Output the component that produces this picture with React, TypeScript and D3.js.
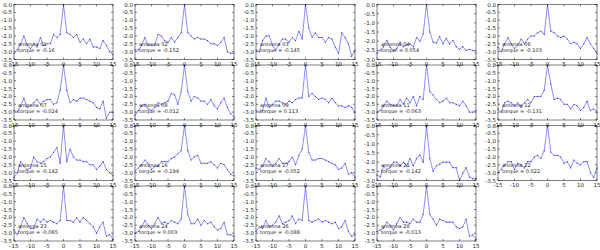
import React from 'react';
import * as d3 from 'd3';

// lag axis, shared by every panel
const LAGS = [-15, -14, -13, -12, -11, -10, -9, -8, -7, -6, -5, -4, -3, -2, -1, 0, 1, 2, 3, 4, 5, 6, 7, 8, 9, 10, 11, 12, 13, 14, 15];
const X_TICKS = [-15, -10, -5, 0, 5, 10, 15];

const ANTENNAS = ['01', '02', '03', '04', '06', '07', '08', '09', '11', '12', '15', '16', '17', '21', '22', '23', '24', '26', '28'];
const TORQUES = ['-0.16', '-0.152', '-0.145', '0.054', '-0.103', '-0.024', '-0.012', '0.113', '-0.063', '-0.131', '-0.142', '-0.194', '-0.052', '-0.142', '0.022', '-0.065', '0.003', '-0.088', '-0.013'];
const Y_MINS = [-3.5, -3.5, -3.5, -3.0, -3.5, -3.5, -3.5, -3.5, -3.5, -3.5, -3.5, -3.5, -3.5, -3.0, -3.5, -3.5, -3.5, -3.5, -3.5];

const ant01 = [-3.1, -2.9, -2.5, -2.0, -2.6, -2.8, -2.5, -2.7, -2.1, -2.6, -2.5, -2.5, -1.9, -2.1, -1.9, 0.0, -1.8, -1.9, -2.1, -1.9, -2.4, -2.2, -2.5, -2.2, -2.7, -2.7, -2.8, -2.3, -2.6, -3.0, -3.2];
const ant02 = [-2.9, -2.9, -2.6, -2.1, -2.6, -2.6, -2.6, -1.9, -2.0, -2.3, -2.4, -2.1, -2.4, -2.1, -1.8, 0.0, -1.8, -2.0, -2.2, -2.1, -2.2, -2.2, -2.3, -2.5, -2.5, -2.6, -2.4, -2.1, -3.0, -3.1, -3.1];
const ant03 = [-2.9, -3.0, -2.3, -2.0, -2.0, -2.6, -2.9, -2.5, -2.2, -2.2, -2.4, -2.1, -2.3, -1.7, -2.2, 0.0, -1.5, -2.1, -1.8, -2.1, -2.1, -2.4, -2.1, -2.2, -2.7, -3.1, -1.8, -2.1, -2.5, -3.3, -2.9];
const ant04 = [-2.65, -2.5, -2.3, -1.95, -2.35, -2.5, -2.4, -2.05, -2.3, -2.2, -2.15, -2.3, -1.8, -2.0, -1.6, 0.0, -1.5, -2.05, -2.1, -1.75, -2.15, -1.85, -2.15, -1.95, -2.3, -2.45, -2.3, -2.5, -2.45, -2.5, -2.65];
const ant06 = [-2.7, -3.0, -2.5, -2.1, -2.5, -2.8, -2.6, -2.2, -2.5, -2.2, -2.0, -2.0, -1.8, -1.7, -1.9, -0.05, -1.7, -1.8, -2.0, -2.1, -2.0, -2.2, -2.5, -2.4, -2.5, -2.8, -2.5, -2.1, -2.5, -2.8, -3.1];
const ant07 = [-2.9, -3.0, -2.6, -2.1, -2.7, -2.6, -2.4, -2.2, -2.5, -2.3, -2.2, -2.2, -2.5, -2.4, -1.6, 0.0, -1.6, -2.4, -2.2, -2.3, -2.1, -2.1, -2.2, -2.3, -2.4, -2.7, -2.8, -2.3, -3.4, -3.0, -3.0];
const ant08 = [-3.2, -2.9, -2.6, -2.5, -2.8, -2.9, -2.7, -2.4, -2.5, -2.4, -2.3, -1.8, -1.9, -2.5, -1.7, 0.0, -1.7, -2.3, -2.0, -2.1, -2.3, -2.3, -2.5, -2.2, -2.6, -2.8, -2.4, -2.1, -2.7, -3.1, -3.3];
const ant09 = [-2.9, -3.0, -2.9, -2.1, -2.7, -2.5, -2.3, -2.3, -2.4, -2.5, -2.3, -2.4, -2.2, -2.1, -2.1, 0.0, -2.0, -1.8, -2.0, -2.2, -2.1, -2.2, -2.4, -2.1, -2.4, -2.6, -2.6, -2.7, -2.6, -2.7, -3.0];
const ant11 = [-3.0, -2.9, -2.6, -2.3, -2.5, -2.6, -2.6, -2.2, -2.5, -2.1, -2.4, -2.0, -2.6, -2.0, -2.2, 0.0, -1.7, -1.9, -2.2, -2.4, -2.3, -2.1, -2.4, -2.4, -2.5, -2.6, -2.3, -2.6, -3.0, -3.0, -2.9];
const ant12 = [-2.8, -3.0, -2.4, -2.3, -2.4, -2.6, -2.4, -2.7, -2.4, -2.2, -2.4, -2.0, -2.0, -2.0, -1.6, 0.0, -1.2, -2.2, -2.1, -2.2, -2.5, -2.5, -2.8, -2.5, -2.6, -2.9, -2.7, -2.3, -2.9, -2.8, -3.0];
const ant15 = [-3.3, -3.0, -2.3, -2.6, -2.8, -2.7, -2.0, -2.3, -2.4, -2.3, -2.1, -2.0, -1.7, -1.4, -2.4, 0.0, -2.3, -1.5, -2.0, -2.2, -2.2, -2.3, -2.3, -2.5, -2.5, -2.8, -2.6, -2.3, -2.8, -3.0, -3.2];
const ant16 = [-2.9, -2.7, -2.5, -2.2, -2.4, -2.8, -2.6, -2.6, -2.3, -2.3, -2.3, -2.1, -2.0, -1.8, -1.6, 0.0, -1.6, -2.2, -2.0, -1.9, -2.4, -2.4, -2.4, -2.3, -2.5, -2.7, -2.4, -2.5, -2.8, -3.1, -3.2];
const ant17 = [-2.7, -2.8, -2.6, -2.1, -2.3, -2.6, -2.4, -2.1, -2.4, -2.4, -2.3, -2.0, -2.5, -1.9, -1.5, 0.0, -1.7, -2.2, -2.2, -2.1, -2.1, -2.2, -2.3, -2.4, -2.5, -2.8, -2.7, -2.4, -3.1, -3.0, -3.3];
const ant21 = [-2.7, -2.8, -2.2, -2.4, -2.3, -2.0, -2.0, -2.2, -2.0, -2.2, -1.8, -2.2, -1.8, -1.6, -2.0, 0.0, -1.8, -2.5, -2.2, -2.1, -2.0, -2.0, -2.0, -2.3, -2.3, -3.0, -2.6, -2.3, -2.8, -2.9, -2.9];
const ant22 = [-3.0, -2.8, -2.5, -2.3, -2.3, -2.8, -2.4, -2.5, -2.7, -2.3, -2.3, -2.0, -1.9, -2.1, -1.6, 0.0, -1.7, -1.9, -1.9, -2.0, -2.4, -2.3, -2.7, -2.2, -2.4, -2.5, -2.3, -2.3, -3.0, -3.3, -2.7];
const ant23 = [-2.8, -3.1, -2.6, -2.0, -2.4, -2.7, -2.7, -2.1, -2.3, -2.1, -2.3, -2.2, -2.3, -2.4, -2.2, 0.0, -2.2, -2.2, -2.3, -2.0, -2.3, -2.0, -2.2, -2.4, -2.6, -3.0, -2.6, -2.3, -3.2, -3.1, -3.4];
const ant24 = [-3.0, -2.9, -2.6, -2.2, -2.5, -2.7, -2.4, -2.0, -2.4, -2.3, -2.4, -2.2, -2.3, -2.4, -2.1, 0.0, -1.8, -2.4, -2.4, -2.1, -2.5, -2.2, -2.4, -2.3, -2.6, -2.8, -2.7, -2.3, -3.1, -3.1, -3.2];
const ant26 = [-2.9, -2.6, -2.7, -2.2, -2.6, -2.5, -2.3, -1.9, -2.4, -2.3, -2.2, -1.9, -2.4, -2.1, -2.2, 0.0, -2.2, -2.3, -2.2, -2.1, -2.3, -2.2, -2.3, -2.4, -2.3, -2.7, -2.6, -2.2, -2.9, -3.2, -3.1];
const ant28 = [-2.9, -2.8, -2.7, -2.3, -2.5, -2.8, -2.4, -2.0, -2.3, -2.3, -2.4, -2.1, -2.3, -2.3, -1.8, 0.0, -1.8, -2.1, -2.5, -2.1, -2.2, -2.3, -2.3, -2.3, -2.6, -2.7, -2.6, -2.1, -3.2, -3.1, -3.4];

const SERIES = [ant01, ant02, ant03, ant04, ant06, ant07, ant08, ant09, ant11, ant12, ant15, ant16, ant17, ant21, ant22, ant23, ant24, ant26, ant28];

// grid geometry
const COL_X = [14, 135, 256, 377, 498];
const ROW_Y = [4.5, 65, 125.5, 186];
const PW = 99;
const PH = 55;
const FONT = 'DejaVu Sans';
const LINE_BLUE = '#1a1aff';

const Panel = ({ idx }: { idx: number }) => {
  const col = idx % 5;
  const row = Math.floor(idx / 5);
  const yMin = Y_MINS[idx];
  const x = d3.scaleLinear().domain([-15, 15]).range([0, PW]);
  const y = d3.scaleLinear().domain([yMin, 0]).range([PH, 0]);
  const yTicks = d3.range(yMin, 0.001, 0.5);
  const line = d3.line<number>().x((_, i) => x(LAGS[i])).y((d) => y(d));
  const data = SERIES[idx];

  return (
    <g transform={`translate(${COL_X[col]},${ROW_Y[row]})`}>
      <path d={line(data) || ''} fill="none" stroke={LINE_BLUE} strokeWidth={0.5} />
      {data.map((d, i) => (
        <circle key={i} cx={x(LAGS[i])} cy={y(d)} r={0.55} fill={LINE_BLUE} />
      ))}
      <rect x={0} y={0} width={PW} height={PH} fill="none" stroke="#000" strokeWidth={0.5} />
      {X_TICKS.map((t) => (
        <g key={'x' + t}>
          <line x1={x(t)} x2={x(t)} y1={PH} y2={PH - 2} stroke="#000" strokeWidth={0.5} />
          <line x1={x(t)} x2={x(t)} y1={0} y2={2} stroke="#000" strokeWidth={0.5} />
          <text x={x(t)} y={PH + 6.5} fontSize={5.5} textAnchor="middle" fontFamily={FONT} fill="#222">{t}</text>
        </g>
      ))}
      {yTicks.map((t) => (
        <g key={'y' + t}>
          <line x1={0} x2={2} y1={y(t)} y2={y(t)} stroke="#000" strokeWidth={0.5} />
          <line x1={PW} x2={PW - 2} y1={y(t)} y2={y(t)} stroke="#000" strokeWidth={0.5} />
          <text x={-2} y={y(t) + 2} fontSize={5.5} textAnchor="end" fontFamily={FONT} fill="#222">{t.toFixed(1)}</text>
        </g>
      ))}
      <text x={4} y={PH - 13.5} fontSize={5} fontFamily={FONT} fill="#222">{'antenna ' + ANTENNAS[idx]}</text>
      <text x={4} y={PH - 7.5} fontSize={5} fontFamily={FONT} fill="#222">{'torque = ' + TORQUES[idx]}</text>
    </g>
  );
};

export default function App() {
  return (
    <svg width={600} height={250} style={{ position: 'absolute', left: 0, top: 0, background: '#fff' }}>
      {ANTENNAS.map((_, i) => (
        <Panel key={i} idx={i} />
      ))}
    </svg>
  );
}
